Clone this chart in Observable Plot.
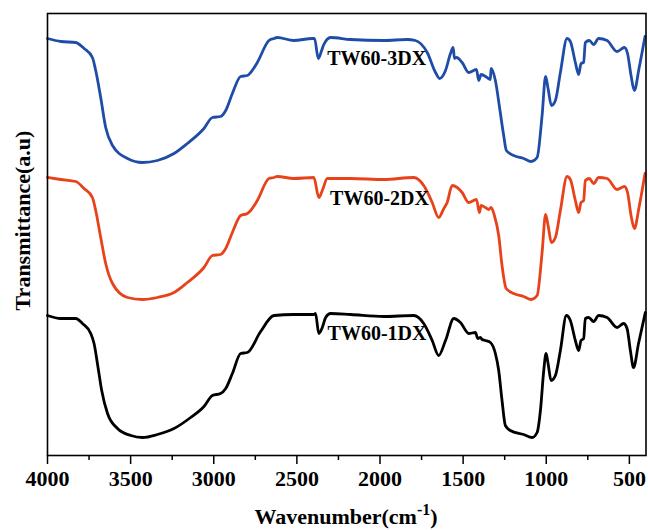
<!DOCTYPE html>
<html><head><meta charset="utf-8">
<script src="https://cdn.jsdelivr.net/npm/d3@7"></script>
<script src="https://cdn.jsdelivr.net/npm/@observablehq/plot@0.6"></script>
<style>body{margin:0;background:#fff} svg{display:block}</style>
</head><body><div id="chart"></div>
<script>
// TW60-1DX (black)
const wn1 = [4000,3920,3830,3790,3740,3720,3696,3674,3639,3579,3499,3429,3339,3239,3139,3059,3008,2959,2928,2888,2838,2798,2718,2638,2518,2398,2388,2368,2347,2327,2297,2177,1977,1797,1737,1686,1647,1606,1556,1516,1466,1426,1412,1396,1386,1366,1336,1306,1286,1266,1246,1216,1136,1085,1055,1035,1015,1001,989,971,945,915,879,855,825,805,791,775,765,745,715,685,634,574,535,514,494,475,445,404];
const t1 = [141,138,138,133,123,113,89,66,43,28,21,19,22,28,39,50,61,63,68,83,103,104,125,141,142,142,143,123,129,139,143,142,140,141,133,116,101,116,138,134,123,124,118,119,117,116,114,103,86,56,31,26,22,19,24,46,86,103,93,76,81,106,141,136,116,106,116,118,138,139,135,141,139,129,133,128,106,89,113,144];
// TW60-2DX (red)
const wn2 = [4000,3920,3830,3780,3730,3710,3680,3650,3609,3519,3429,3339,3239,3159,3059,3008,2959,2928,2888,2838,2798,2778,2738,2668,2638,2618,2518,2398,2368,2347,2317,2177,1977,1797,1737,1686,1647,1616,1596,1566,1536,1506,1466,1420,1402,1392,1366,1346,1332,1312,1286,1266,1241,1196,1136,1091,1055,1025,1004,989,969,945,915,875,855,825,805,791,775,765,741,715,685,634,574,530,511,490,470,442,406];
const t2 = [279,277,275,268,259,246,219,193,173,159,157,159,164,174,189,201,202,208,224,241,243,246,256,278,279,280,278,279,259,266,278,278,277,279,271,254,239,248,254,271,269,264,254,257,244,251,249,247,249,241,221,191,168,163,160,157,161,204,242,231,214,219,246,280,277,256,244,254,256,276,278,273,279,278,267,270,264,241,228,249,283];
// TW60-3DX (blue)
const wn3 = [4000,3920,3830,3780,3730,3710,3680,3650,3609,3519,3429,3339,3239,3159,3059,3008,2959,2928,2888,2838,2798,2778,2738,2668,2638,2618,2518,2407,2394,2371,2353,2338,2297,2177,1977,1836,1787,1716,1666,1642,1606,1576,1560,1552,1540,1506,1466,1420,1406,1392,1356,1336,1332,1306,1280,1256,1240,1196,1136,1091,1055,1025,1004,989,969,945,915,875,855,825,805,791,775,765,741,715,685,634,574,530,511,490,470,442,406];
const t3 = [418,415,414,408,399,386,359,329,311,298,294,296,303,313,328,339,340,346,363,380,381,384,394,416,418,419,416,418,418,398,405,412,419,417,416,417,416,404,384,378,386,403,409,398,399,394,384,387,376,382,379,377,388,376,348,321,306,301,298,295,299,341,380,368,351,356,384,418,415,394,382,393,394,414,416,412,418,416,405,409,403,381,366,388,420];

const seriesNames = ["TW60-1DX","TW60-2DX","TW60-3DX"];
const seriesColors = ["#000000","#e8421a","#1f4ca6"];
const labelWn = [2018,2003,2020];
const labelT = [123,258,398];
const majorTicks = [4000,3500,3000,2500,2000,1500,1000,500];
const minorTicks = [3750,3250,2750,2250,1750,1250,750];

const toRows = (wn, t) => wn.map((w, i) => ({wn: w, t: t[i]}));
const rows = [toRows(wn1, t1), toRows(wn2, t2), toRows(wn3, t3)];
const labels = seriesNames.map((n, i) => ({name: n, wn: labelWn[i], t: labelT[i]}));

const font = "'Liberation Serif','Times New Roman',serif";
const chart = Plot.plot({
  width: 648, height: 530,
  marginLeft: 47, marginRight: 2.5, marginTop: 13, marginBottom: 75,
  style: {fontFamily: font, background: "#fff", color: "#000"},
  x: {domain: [4000, 400]},
  y: {domain: [1, 443], axis: null},
  marks: [
    ...rows.map((r, i) => Plot.line(r, {x: "wn", y: "t", stroke: seriesColors[i], strokeWidth: 2.8, curve: "monotone-x"})),
    Plot.frame({stroke: "#000", strokeWidth: 1.6}),
    Plot.axisX(majorTicks, {tickSize: 9, tickPadding: 6, strokeWidth: 1.5, fontSize: 22, fontWeight: "bold", tickFormat: "d", label: null}),
    Plot.axisX(minorTicks, {tickSize: 5, strokeWidth: 1.5, fill: "none", label: null}),
    Plot.text(labels, {x: "wn", y: "t", text: "name", fontSize: 20, fontWeight: "bold", fill: "#000"}),
    Plot.text(["Transmittance(a.u)"], {frameAnchor: "left", textAnchor: "middle", rotate: -90, dx: -25, dy: -14, fontSize: 22, fontWeight: "bold", fill: "#000"})
  ]
});
const svg = d3.select(chart);
const title = svg.append("text")
  .attr("x", 346).attr("y", 524)
  .attr("text-anchor", "middle")
  .attr("font-family", font).attr("font-size", 22).attr("font-weight", "bold").attr("fill", "#000");
title.append("tspan").text("Wavenumber(cm");
title.append("tspan").attr("dy", -9).attr("font-size", 16).text("-1");
title.append("tspan").attr("dy", 9).text(")");
document.getElementById("chart").appendChild(chart);
</script>
</body></html>
